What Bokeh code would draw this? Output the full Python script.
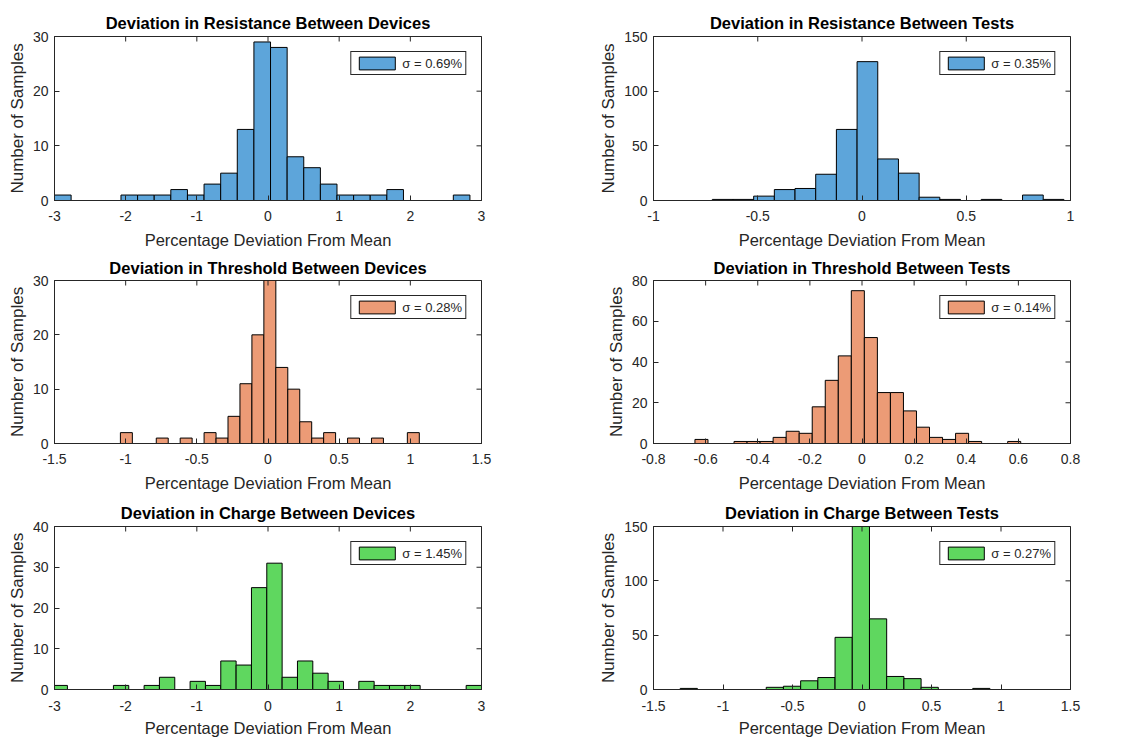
import math
from bokeh.plotting import figure
from bokeh.models import Range1d, FixedTicker, NumeralTickFormatter
from bokeh.layouts import column, row
from bokeh.embed import file_html
from bokeh.resources import INLINE

# ---------------- data ----------------
res_dev_start = -3.0
res_dev_width = 0.2335
res_dev_counts = [1, 0, 0, 0, 1, 1, 1, 2, 1, 3, 5, 13, 29, 28, 8, 6, 3, 1, 1, 1, 2, 0, 0, 0, 1]
res_dev_sigma = "σ = 0.69%"

res_test_start = -0.718
res_test_width = 0.0992
res_test_counts = [1, 1, 4, 10, 11, 24, 65, 127, 38, 25, 3, 1, 0, 1, 0, 5, 1]
res_test_sigma = "σ = 0.35%"

thr_dev_start = -1.037
thr_dev_width = 0.084
thr_dev_counts = [2, 0, 0, 1, 0, 1, 0, 2, 1, 5, 11, 20, 30, 14, 10, 4, 1, 2, 0, 1, 0, 1, 0, 0, 2]
thr_dev_sigma = "σ = 0.28%"

thr_test_start = -0.641
thr_test_width = 0.05
thr_test_counts = [2, 0, 0, 1, 1, 1, 3, 6, 5, 18, 31, 43, 75, 52, 25, 25, 16, 8, 3, 2, 5, 1, 0, 0, 1]
thr_test_sigma = "σ = 0.14%"

chg_dev_start = -3.034
chg_dev_width = 0.2155
chg_dev_counts = [1, 0, 0, 0, 1, 0, 1, 3, 0, 2, 1, 7, 6, 25, 31, 3, 7, 4, 2, 0, 2, 1, 1, 1, 0, 0, 0, 1]
chg_dev_sigma = "σ = 1.45%"

chg_test_start = -1.308
chg_test_width = 0.1238
chg_test_counts = [1, 0, 0, 0, 0, 2, 3, 8, 11, 48, 150, 65, 12, 10, 2, 0, 0, 1]
chg_test_sigma = "σ = 0.27%"

titles = [
    "Deviation in Resistance Between Devices",
    "Deviation in Resistance Between Tests",
    "Deviation in Threshold Between Devices",
    "Deviation in Threshold Between Tests",
    "Deviation in Charge Between Devices",
    "Deviation in Charge Between Tests",
]
x_label = "Percentage Deviation From Mean"
y_label = "Number of Samples"

res_dev_xticks = [-3, -2, -1, 0, 1, 2, 3]
res_dev_yticks = [0, 10, 20, 30]
res_test_xticks = [-1, -0.5, 0, 0.5, 1]
res_test_yticks = [0, 50, 100, 150]
thr_dev_xticks = [-1.5, -1, -0.5, 0, 0.5, 1, 1.5]
thr_dev_yticks = [0, 10, 20, 30]
thr_test_xticks = [-0.8, -0.6, -0.4, -0.2, 0, 0.2, 0.4, 0.6, 0.8]
thr_test_yticks = [0, 20, 40, 60, 80]
chg_dev_xticks = [-3, -2, -1, 0, 1, 2, 3]
chg_dev_yticks = [0, 10, 20, 30, 40]
chg_test_xticks = [-1.5, -1, -0.5, 0, 0.5, 1, 1.5]
chg_test_yticks = [0, 50, 100, 150]

BLUE = "#5DA5DA"
ORANGE = "#EC9B76"
GREEN = "#5FD75F"
AX = "#262626"
FONT = "Liberation Sans"


def panel(title, start, width, counts, sigma, color, xticks, yticks,
          w, h, bl, br, bt, bb, title_standoff, tick_standoff, lab_standoff):
    n = len(counts)
    lefts = [start + i * width for i in range(n)]
    rights = [start + (i + 1) * width for i in range(n)]
    p = figure(width=w, height=h, output_backend="svg", toolbar_location=None,
               x_range=Range1d(xticks[0], xticks[-1]),
               y_range=Range1d(yticks[0], yticks[-1]),
               min_border_left=bl, min_border_right=br,
               min_border_top=bt, min_border_bottom=bb,
               background_fill_color="white", border_fill_color="white")
    p.quad(left=lefts, right=rights, bottom=0, top=counts,
           fill_color=color, line_color="black", line_width=1,
           legend_label=sigma)
    p.grid.visible = False
    p.outline_line_color = AX
    p.outline_line_alpha = 1.0
    p.outline_line_width = 1

    # mirrored tick marks on the top and right edges (half of each dash is clipped by the frame)
    p.scatter(x=xticks, y=[yticks[-1]] * len(xticks), marker="dash", size=10,
              angle=math.pi / 2, line_color=AX, line_width=1)
    p.scatter(x=[xticks[-1]] * len(yticks), y=yticks, marker="dash", size=10,
              line_color=AX, line_width=1)

    p.title.text = title
    p.title.text_font = FONT
    p.title.text_font_size = "16.5px"
    p.title.text_font_style = "bold"
    p.title.text_color = "black"
    p.title.align = "center"
    p.title.standoff = title_standoff

    for ax, ticks, lab in ((p.xaxis[0], xticks, x_label), (p.yaxis[0], yticks, y_label)):
        ax.ticker = FixedTicker(ticks=ticks)
        ax.formatter = NumeralTickFormatter(format="0.[0]")
        ax.axis_label = lab
        ax.axis_label_text_font = FONT
        ax.axis_label_text_font_style = "normal"
        ax.axis_label_text_color = AX
        ax.major_label_text_font = FONT
        ax.major_label_text_font_size = "14px"
        ax.major_label_text_color = AX
        ax.axis_line_color = AX
        ax.major_tick_line_color = AX
        ax.major_tick_in = 5
        ax.major_tick_out = 0
        ax.minor_tick_line_color = None
    p.xaxis[0].axis_label_text_font_size = "16.5px"
    p.yaxis[0].axis_label_text_font_size = "17px"
    p.xaxis[0].major_label_standoff = tick_standoff
    p.xaxis[0].axis_label_standoff = lab_standoff
    p.yaxis[0].major_label_standoff = 6
    p.yaxis[0].axis_label_standoff = 3

    lg = p.legend[0]
    lg.location = "top_right"
    lg.margin = 15
    lg.padding = 3
    lg.spacing = 0
    lg.label_standoff = 3
    lg.glyph_width = 45
    lg.glyph_height = 16
    lg.label_height = 16
    lg.label_text_font = FONT
    lg.label_text_font_size = "13px"
    lg.label_text_color = AX
    lg.border_line_color = AX
    lg.border_line_width = 1
    lg.border_line_alpha = 1.0
    lg.background_fill_color = "white"
    lg.background_fill_alpha = 1.0
    return p


LW, RW = 560, 570
LB = (54, 79)    # left figures: frame 54..481
RB = (93, 60)    # right figures: frame 653..1070

# row heights: 253 + 244 + 243 = 740
p1 = panel(titles[0], res_dev_start, res_dev_width, res_dev_counts, res_dev_sigma, BLUE,
           res_dev_xticks, res_dev_yticks, LW, 253, LB[0], LB[1], 36, 53, 9, 10, 7)
p2 = panel(titles[1], res_test_start, res_test_width, res_test_counts, res_test_sigma, BLUE,
           res_test_xticks, res_test_yticks, RW, 253, RB[0], RB[1], 36, 53, 9, 10, 7)
p3 = panel(titles[2], thr_dev_start, thr_dev_width, thr_dev_counts, thr_dev_sigma, ORANGE,
           thr_dev_xticks, thr_dev_yticks, LW, 244, LB[0], LB[1], 27, 54, 7, 10, 7)
p4 = panel(titles[3], thr_test_start, thr_test_width, thr_test_counts, thr_test_sigma, ORANGE,
           thr_test_xticks, thr_test_yticks, RW, 244, RB[0], RB[1], 27, 54, 7, 10, 7)
p5 = panel(titles[4], chg_dev_start, chg_dev_width, chg_dev_counts, chg_dev_sigma, GREEN,
           chg_dev_xticks, chg_dev_yticks, LW, 243, LB[0], LB[1], 29, 51, 9, 11, 5)
p6 = panel(titles[5], chg_test_start, chg_test_width, chg_test_counts, chg_test_sigma, GREEN,
           chg_test_xticks, chg_test_yticks, RW, 243, RB[0], RB[1], 29, 51, 9, 11, 5)

layout = column(row(p1, p2), row(p3, p4), row(p5, p6))

open("out.html", "w").write(file_html(layout, INLINE))
